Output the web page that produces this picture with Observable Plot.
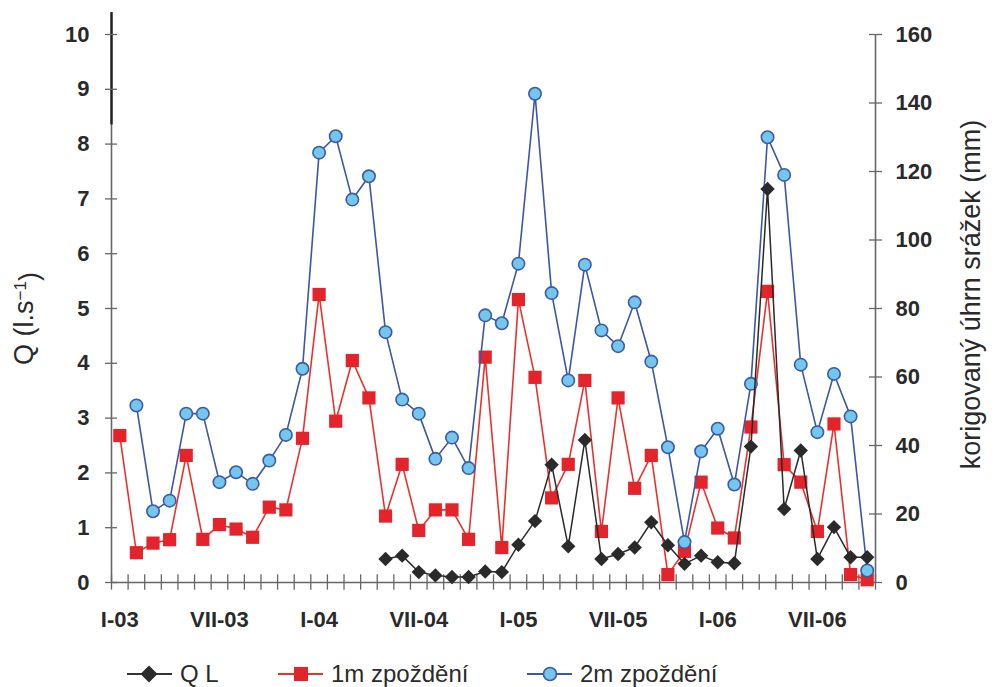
<!DOCTYPE html>
<html><head><meta charset="utf-8">
<script src="https://cdn.jsdelivr.net/npm/d3@7"></script>
<script src="https://cdn.jsdelivr.net/npm/@observablehq/plot@0.6"></script>
<style>
body{margin:0;background:#fff;}
#wrap{position:relative;width:995px;height:687px;overflow:hidden;background:#fff;}
#legend{position:absolute;left:0;top:660px;width:995px;height:28px;font-family:"Liberation Sans",Arial,sans-serif;font-size:24px;color:#2a2a2a;}
.item{position:absolute;top:0;height:28px;display:flex;align-items:center;white-space:nowrap;}
.item svg{margin-right:7px;}
</style></head><body>
<div id="wrap"><div id="chart"></div><div id="legend"></div></div>
<script>
// Categories (months)
const months = ["I-03","II-03","III-03","IV-03","V-03","VI-03","VII-03","VIII-03","IX-03","X-03","XI-03","XII-03",
"I-04","II-04","III-04","IV-04","V-04","VI-04","VII-04","VIII-04","IX-04","X-04","XI-04","XII-04",
"I-05","II-05","III-05","IV-05","V-05","VI-05","VII-05","VIII-05","IX-05","X-05","XI-05","XII-05",
"I-06","II-06","III-06","IV-06","V-06","VI-06","VII-06","VIII-06","IX-06","X-06"];
const tickMonths = ["I-03","VII-03","I-04","VII-04","I-05","VII-05","I-06","VII-06"];
// Q L (l.s-1), left axis
const qL = [null,null,null,null,null,null,null,null,null,null,null,null,null,null,null,null,
0.43,0.49,0.19,0.13,0.10,0.10,0.20,0.19,0.69,1.12,2.15,0.66,2.60,0.43,0.52,0.64,
1.10,0.68,0.34,0.49,0.37,0.35,2.48,7.18,1.34,2.41,0.43,1.01,0.46,0.46];
// 1m zpoždění (mm), right axis
const lag1 = [42.9,8.7,11.5,12.5,37.1,12.6,16.9,15.6,13.2,22.0,21.2,42.1,84.1,47.1,64.8,53.9,
19.4,34.5,15.2,21.2,21.2,12.6,65.8,10.2,82.6,59.9,24.7,34.5,59.0,14.9,53.9,27.5,
37.1,2.3,9.1,29.3,15.9,13.0,45.4,85.0,34.4,29.3,14.9,46.3,2.3,0.8];
// 2m zpoždění (mm), right axis
const lag2 = [null,51.7,20.8,23.9,49.3,49.3,29.3,32.2,28.8,35.6,43.1,62.4,125.5,130.3,111.8,118.6,
73.1,53.4,49.3,36.1,42.3,33.4,78.0,75.7,93.1,142.7,84.5,59.0,92.8,73.6,69.0,81.8,
64.5,39.5,11.8,38.3,44.9,28.6,58.0,130.0,119.0,63.6,43.9,60.9,48.5,3.5];
const leftTicks = [0,1,2,3,4,5,6,7,8,9,10];
const rightTicks = [0,20,40,60,80,100,120,140,160];
const leftTitle = "Q (l.s-1)";
const rightTitle = "korigovaný úhrn srážek (mm)";
const seriesNames = ["Q L","1m zpoždění","2m zpoždění"];

const N = months.length;
const k = leftTicks[leftTicks.length-1] / rightTicks[rightTicks.length-1];
const rows = months.map((m,i)=>({i, m,
  ql: qL[i],
  m1: lag1[i]==null?null:lag1[i]*k,
  m2: lag2[i]==null?null:lag2[i]*k}));
const boundaries = d3.range(-0.5, N, 1);
const tickIdx = tickMonths.map(t=>months.indexOf(t));

const squareSym = {draw(ctx,size){const h=Math.sqrt(size/Math.PI);ctx.rect(-h,-h,2*h,2*h);}};
const diamondSym = {draw(ctx,size){const h=Math.sqrt(size/Math.PI);ctx.moveTo(0,-h);ctx.lineTo(h,0);ctx.lineTo(0,h);ctx.lineTo(-h,0);ctx.closePath();}};

const axisColor = "#666";
const plot = Plot.plot({
  width: 995, height: 640,
  marginLeft: 111, marginRight: 120, marginTop: 34, marginBottom: 58,
  style: {fontFamily: "'Liberation Sans', Arial, sans-serif", fontSize: "22px", fontWeight: "bold", color: "#2a2a2a", background: "#fff", overflow: "visible"},
  x: {type: "linear", domain: [-0.5, N-0.5], label: null},
  y: {domain: [0, 10], label: null},
  marks: [
    Plot.ruleX(boundaries, {x: d=>d, y1: -0.14, y2: 0.14, stroke: axisColor, strokeWidth: 1.3}),
    Plot.ruleY([0], {stroke: axisColor, strokeWidth: 1.6}),
    Plot.ruleX([N-0.5], {stroke: axisColor, strokeWidth: 1.6}),
    Plot.ruleX([-0.5], {y1: 0, y2: 10.4, stroke: axisColor, strokeWidth: 1.6}),
    Plot.ruleX([-0.5], {y1: 8.35, y2: 10.4, stroke: "#222", strokeWidth: 2.4}),
    Plot.ruleY(leftTicks, {y: d=>d, x1: -0.5, x2: -0.5+0.36, stroke: axisColor, strokeWidth: 1.3}),
    Plot.ruleY(rightTicks.map(d=>d*k), {y: d=>d, x1: N-0.5-0.36, x2: N-0.5, stroke: axisColor, strokeWidth: 1.3}),
    Plot.axisY({anchor: "left", ticks: leftTicks, tickSize: 6, tickPadding: 16, label: null, stroke: axisColor, strokeWidth: 1.3}),
    Plot.axisY({anchor: "right", ticks: rightTicks.map(d=>d*k), tickFormat: d=>String(Math.round(d/k)), tickSize: 6, tickPadding: 14, label: null, stroke: axisColor, strokeWidth: 1.3}),
    Plot.axisX({ticks: tickIdx, tickFormat: i=>months[i], tickSize: 0, tickPadding: 29, label: null}),
    Plot.text([leftTitle], {text: d=>d, frameAnchor: "left", textAnchor: "middle", rotate: -90, dx: -87, dy: 10, fontWeight: "normal", fontSize: 27}),
    Plot.text([rightTitle], {text: d=>d, frameAnchor: "right", textAnchor: "middle", rotate: -90, dx: 96, dy: -14, fontWeight: "normal", fontSize: 27}),
    Plot.line(rows, {x: "i", y: "m1", stroke: "#e8322e", strokeWidth: 1.6}),
    Plot.dot(rows, {x: "i", y: "m1", symbol: squareSym, r: 6.6, fill: "#e3242b", stroke: "none"}),
    Plot.line(rows, {x: "i", y: "m2", stroke: "#3d56a6", strokeWidth: 1.6}),
    Plot.dot(rows, {x: "i", y: "m2", r: 6.2, fill: "#74c7ec", stroke: "#3b5aa8", strokeWidth: 1.6}),
    Plot.line(rows, {x: "i", y: "ql", stroke: "#2a2a2a", strokeWidth: 1.5}),
    Plot.dot(rows, {x: "i", y: "ql", symbol: diamondSym, r: 7.2, fill: "#2a2a2a", stroke: "none"})
  ]
});
document.getElementById("chart").appendChild(plot);

// superscript in the left axis title
plot.querySelectorAll("text").forEach(t=>{
  if (t.textContent === leftTitle) {
    t.textContent = "";
    const ns = "http://www.w3.org/2000/svg";
    const a = document.createElementNS(ns,"tspan"); a.textContent = "Q (l.s";
    const b = document.createElementNS(ns,"tspan"); b.textContent = "\u22121"; b.setAttribute("dy","-0.45em"); b.setAttribute("font-size","17");
    const c = document.createElementNS(ns,"tspan"); c.textContent = ")"; c.setAttribute("dy","0.45em");
    t.append(a,b,c);
  }
});

// Legend
const legendItems = [
  {name: seriesNames[0], left: 126, line: "#333", marker: '<path d="M23,1.5L31.5,10L23,18.5L14.5,10Z" fill="#2a2a2a"/>'},
  {name: seriesNames[1], left: 277, line: "#e8322e", marker: '<rect x="17" y="3" width="14" height="14" fill="#e3242b"/>'},
  {name: seriesNames[2], left: 526, line: "#3d56a6", marker: '<circle cx="24" cy="10" r="6.5" fill="#74c7ec" stroke="#3b5aa8" stroke-width="1.6"/>'}
];
const lg = document.getElementById("legend");
legendItems.forEach(it=>{
  const d = document.createElement("div");
  d.className = "item";
  d.style.left = it.left + "px";
  d.innerHTML = `<svg width="47" height="20"><line x1="1" y1="10" x2="46" y2="10" stroke="${it.line}" stroke-width="2"/>${it.marker}</svg><span>${it.name}</span>`;
  lg.appendChild(d);
});
</script>
</body></html>
